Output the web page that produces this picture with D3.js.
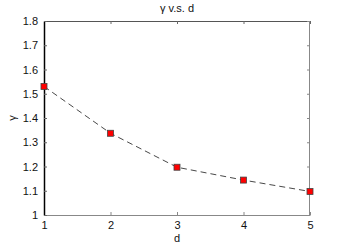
<!DOCTYPE html>
<html><head><meta charset="utf-8">
<script src="https://cdn.jsdelivr.net/npm/d3@7"></script>
<style>body{margin:0;background:#fff}svg{display:block}text{font-family:"Liberation Sans",Arial,sans-serif}</style>
</head><body>
<svg id="c" width="342" height="246"></svg>
<script>
const dValues = [1, 2, 3, 4, 5];
const gammaValues = [1.53, 1.337, 1.197, 1.144, 1.097];
const xTicks = [1, 2, 3, 4, 5];
const yTicks = [1, 1.1, 1.2, 1.3, 1.4, 1.5, 1.6, 1.7, 1.8];

const svg = d3.select("#c");
const L = 44, R = 310, T = 21, B = 215;
const x = d3.scaleLinear().domain([1, 5]).range([L, R]);
const y = d3.scaleLinear().domain([1, 1.8]).range([B, T]);

svg.append("line").attr("x1", L).attr("x2", R).attr("y1", T + 0.5).attr("y2", T + 0.5).attr("stroke", "#555");
svg.append("line").attr("x1", R - 0.5).attr("x2", R - 0.5).attr("y1", T).attr("y2", B).attr("stroke", "#888");

const gx = svg.append("g").attr("transform", `translate(0,${B})`)
  .call(d3.axisBottom(x).tickValues(xTicks).tickFormat(d3.format("d")).tickSizeInner(-3).tickSizeOuter(0).tickPadding(6));
gx.select(".domain").attr("stroke", "#888").attr("stroke-width", 1.2);
gx.selectAll(".tick line").attr("stroke", "#888");
gx.selectAll("text").attr("font-size", 11).attr("fill", "#111");

const gxt = svg.append("g").attr("transform", `translate(0,${T})`)
  .call(d3.axisTop(x).tickValues(xTicks).tickFormat("").tickSizeInner(-3).tickSizeOuter(0));
gxt.select(".domain").remove();
gxt.selectAll(".tick line").attr("stroke", "#666");

const gy = svg.append("g").attr("transform", `translate(${L},0)`)
  .call(d3.axisLeft(y).tickValues(yTicks).tickFormat(d => d3.format("")(+d.toFixed(1))).tickSizeInner(-3).tickSizeOuter(0).tickPadding(6));
gy.select(".domain").attr("stroke", "#000").attr("stroke-width", 1.5);
gy.selectAll(".tick line").attr("stroke", "#666");
gy.selectAll("text").attr("font-size", 11).attr("fill", "#111");

const gyr = svg.append("g").attr("transform", `translate(${R},0)`)
  .call(d3.axisRight(y).tickValues(yTicks).tickFormat("").tickSizeInner(-3).tickSizeOuter(0));
gyr.select(".domain").remove();
gyr.selectAll(".tick line").attr("stroke", "#888");

const line = d3.line().x((d, i) => x(dValues[i])).y(d => y(d));
svg.append("path").datum(gammaValues).attr("d", line)
  .attr("fill", "none").attr("stroke", "#333").attr("stroke-width", 0.9).attr("stroke-dasharray", "6,4");

svg.selectAll("rect.m").data(gammaValues).enter().append("rect")
  .attr("x", (d, i) => x(dValues[i]) - 3).attr("y", d => y(d) - 3)
  .attr("width", 6).attr("height", 6).attr("fill", "#f00").attr("stroke", "#444").attr("stroke-width", 0.8);

svg.append("text").attr("x", 177).attr("y", 12).attr("text-anchor", "middle").attr("font-size", 11).attr("fill", "#111").text("γ v.s. d");
svg.append("text").attr("x", 177).attr("y", 242).attr("text-anchor", "middle").attr("font-size", 11).attr("fill", "#111").text("d");
svg.append("text").attr("transform", "translate(16,118) rotate(-90)").attr("text-anchor", "middle").attr("font-size", 11).attr("fill", "#111").text("γ");
</script>
</body></html>
